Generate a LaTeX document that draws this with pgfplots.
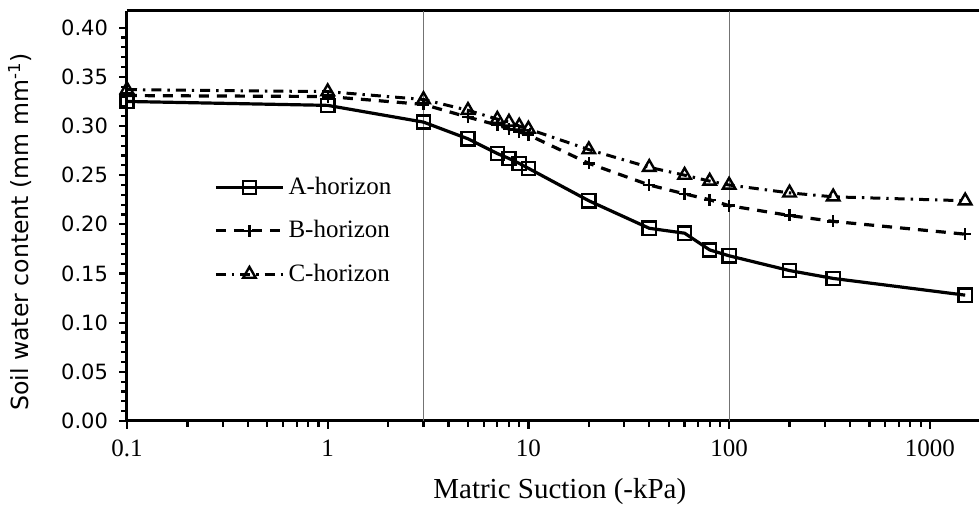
\documentclass[border=0pt]{standalone}
\usepackage{fontspec}
\setmainfont{Liberation Serif}
\newfontfamily\dejavu{DejaVu Sans}
\usepackage{pgfplots}
\pgfplotsset{compat=1.18}

\begin{document}
\begin{tikzpicture}
\begin{axis}[name=ax,
  xmode=log, scale only axis, width=426pt, height=205pt,
  xmin=0.1, xmax=1758, ymin=0, ymax=0.417,
  axis x line*=box, axis y line*=left, xtick pos=bottom, ytick pos=left,
  axis line style={line width=1.5pt},
  tick align=outside, tick style={line width=1.1pt, black},
  major tick length=4pt, minor tick length=2.8pt,
  xtick={0.1,1,10,100,1000}, xticklabels={0.1,1,10,100,1000},
  xticklabel style={font=\fontsize{12.5}{14}\selectfont, yshift=-2pt},
  ytick={0,0.05,...,0.40}, minor y tick num=4,
  yticklabel style={font=\fontsize{10.5}{12}\dejavu, xshift=-2pt, /pgf/number format/.cd, fixed, fixed zerofill, precision=2, assume math mode=true},
  extra x ticks={3,100}, extra x tick labels={},
  extra x tick style={grid=major, major tick length=0pt, major grid style={black!55, line width=0.5pt}},
  xlabel={Matric Suction (-kPa)},
  xlabel style={font=\fontsize{14.5}{16}\selectfont, at={(axis description cs:0.508,0)}, anchor=north, yshift=-25pt},
  ylabel={Soil water content (mm mm\textsuperscript{-1})},
  ylabel style={font=\fontsize{11.8}{13}\dejavu, at={(axis description cs:-0.1256,0.461)}, anchor=center, rotate=0},
  legend style={at={(axis description cs:0.095,0.615)}, anchor=north west, draw=none, fill=none,
    font=\fontsize{12.5}{15}\selectfont, row sep=7.5pt, cells={anchor=west}},
  legend image code/.code={\draw[mark repeat=2,mark phase=2] plot coordinates {(0pt,0pt) (16.75pt,0pt) (33.5pt,0pt)};},
  clip=false,
]
\addplot[black, line width=1.6pt, mark=square, mark size=3.3pt, mark options={solid, line width=1.2pt, fill=white}]
  coordinates {(0.1,0.325)(1,0.321)(3,0.304)(5,0.287)(7,0.272)(8,0.267)(9,0.262)(10,0.257)(20,0.224)(40,0.196)(60,0.191)(80,0.174)(100,0.168)(200,0.153)(330,0.145)(1500,0.128)};
\addplot[black, line width=1.6pt, dash pattern=on 5pt off 4pt, mark=+, mark size=3pt, mark options={solid, line width=1.2pt}]
  coordinates {(0.1,0.331)(1,0.330)(3,0.322)(5,0.309)(7,0.301)(8,0.297)(9,0.294)(10,0.291)(20,0.262)(40,0.240)(60,0.231)(80,0.225)(100,0.219)(200,0.209)(330,0.203)(1500,0.190)};
\addplot[black, line width=1.5pt, dash pattern=on 5pt off 3pt on 1.2pt off 3pt, mark=triangle, mark size=3.6pt, mark options={solid, line width=1.2pt, fill=white}]
  coordinates {(0.1,0.337)(1,0.335)(3,0.327)(5,0.316)(7,0.307)(8,0.304)(9,0.300)(10,0.297)(20,0.276)(40,0.258)(60,0.250)(80,0.244)(100,0.240)(200,0.232)(330,0.228)(1500,0.224)};
\legend{A-horizon, B-horizon, C-horizon}
\end{axis}
\pgfresetboundingbox
\path[use as bounding box] ([xshift=-63.5pt,yshift=-43pt]ax.south west) rectangle ([yshift=5.5pt]ax.north east);
\end{tikzpicture}
\end{document}
